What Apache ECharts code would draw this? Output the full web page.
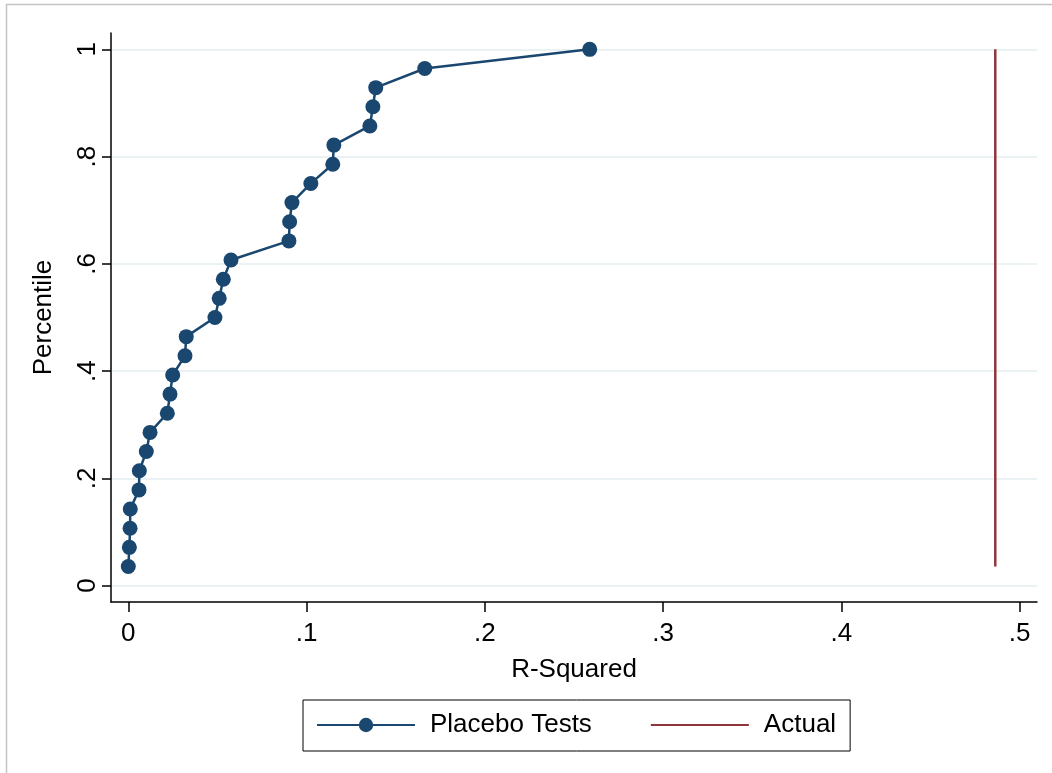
<!DOCTYPE html>
<html>
<head>
<meta charset="utf-8">
<script src="https://cdn.jsdelivr.net/npm/echarts@6/dist/echarts.min.js"></script>
<style>
  html, body { margin: 0; padding: 0; background: #fff; }
  #main { width: 1052px; height: 773px; }
</style>
</head>
<body>
<div id="main"></div>
<script>
// R-squared of each placebo test, sorted, with its percentile (i/28)
var placeboR2 = [0, 0.0006, 0.001, 0.0011, 0.006, 0.0062, 0.0101, 0.0122, 0.0219, 0.0234,
    0.0249, 0.0318, 0.0325, 0.0486, 0.051, 0.0533, 0.0576, 0.0901, 0.0905, 0.0918,
    0.1024, 0.1147, 0.1153, 0.1355, 0.1372, 0.1388, 0.1663, 0.2588];
var placeboPct = [1, 2, 3, 4, 5, 6, 7, 8, 9, 10, 11, 12, 13, 14, 15, 16, 17, 18, 19, 20,
    21, 22, 23, 24, 25, 26, 27, 28].map(function (i) { return i / 28; });
var actualR2 = 0.4863;
var actualPct = [1 / 28, 1];
var xTicks = [0, .1, .2, .3, .4, .5];
var yTicks = [0, .2, .4, .6, .8, 1];

var fmt = function (v) {
    if (v === 0) return '0';
    if (v === 1) return '1';
    return String(v).replace(/^0/, '');
};

onload = function () {
    var myChart = echarts.init(document.getElementById('main'));
    var font = 'Liberation Sans, Arial, sans-serif';

    var placeboData = placeboR2.map(function (x, i) { return [x, placeboPct[i]]; });
    var actualData = actualPct.map(function (y) { return [actualR2, y]; });

    myChart.setOption({
        backgroundColor: '#fff',
        animation: false,
        graphic: [{
            type: 'rect',
            shape: { x: 6.5, y: 4.5, width: 1100, height: 800 },
            style: { fill: null, stroke: '#c4c4c4', lineWidth: 1.5 },
            silent: true
        }],
        grid: { left: 111, right: 15, top: 33, bottom: 171 },
        legend: {
            left: 303,
            top: 700,
            padding: [12, 14, 13, 13],
            borderColor: '#000',
            borderWidth: 1,
            itemWidth: 98,
            itemHeight: 18,
            itemGap: 58,
            textStyle: { fontFamily: font, fontSize: 26, color: '#000', padding: [0, 0, 0, 10] },
            data: ['Placebo Tests', { name: 'Actual', itemStyle: { opacity: 0 } }]
        },
        xAxis: {
            type: 'value',
            min: -0.0097,
            max: 0.5097,
            name: 'R-Squared',
            nameLocation: 'middle',
            nameGap: 55,
            nameTextStyle: { fontFamily: font, fontSize: 26, color: '#000' },
            axisLine: { onZero: false, lineStyle: { color: '#000', width: 1.5 } },
            axisTick: { customValues: xTicks, length: 10, lineStyle: { color: '#000', width: 1.5 } },
            axisLabel: {
                customValues: xTicks, margin: 19, formatter: fmt,
                fontFamily: font, fontSize: 26, color: '#000'
            },
            splitLine: { show: false }
        },
        yAxis: {
            type: 'value',
            min: -0.0305,
            max: 1.0305,
            name: 'Percentile',
            nameLocation: 'middle',
            nameGap: 54,
            nameRotate: 90,
            nameTextStyle: { fontFamily: font, fontSize: 26, color: '#000' },
            axisLine: { onZero: false, lineStyle: { color: '#000', width: 1.5 } },
            axisTick: { customValues: yTicks, length: 9, lineStyle: { color: '#000', width: 1.5 } },
            axisLabel: {
                customValues: yTicks, margin: 10, rotate: 90, formatter: fmt,
                fontFamily: font, fontSize: 26, color: '#000'
            },
            splitLine: { show: true, lineStyle: { color: '#eaf2f3', width: 2 } }
        },
        series: [{
            name: 'Placebo Tests',
            type: 'line',
            data: placeboData,
            symbol: 'circle',
            symbolSize: 15,
            itemStyle: { color: '#1a476f' },
            lineStyle: { color: '#1a476f', width: 2.5 },
            z: 3
        }, {
            name: 'Actual',
            type: 'line',
            data: actualData,
            symbol: 'none',
            itemStyle: { color: '#90353b' },
            lineStyle: { color: '#90353b', width: 2.5 },
            z: 2
        }]
    });
};
</script>
</body>
</html>
